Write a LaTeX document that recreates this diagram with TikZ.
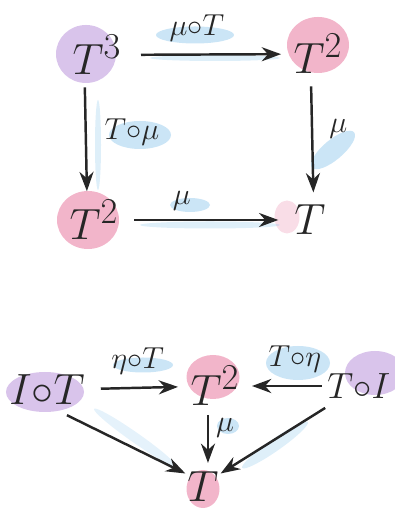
\documentclass[tikz,border=0pt]{standalone}
\usepackage{amsmath}
\usetikzlibrary{arrows.meta,positioning,backgrounds}
\definecolor{wcInk}{HTML}{262626}
\definecolor{wcPurple}{HTML}{B48AD8}
\definecolor{wcPink}{HTML}{E8789E}
\definecolor{wcBlue}{HTML}{7DBFE9}
\tikzset{
  % object of the category
  obj/.style={font=\fontsize{28}{32}\selectfont,text=wcInk,inner sep=3pt},
  % arrow label
  lbl/.style={font=\fontsize{16}{18}\selectfont,text=wcInk,inner sep=1pt},
  % arrows
  arr/.style={-{Stealth[length=11pt,width=8pt]},line width=1.4pt,color=wcInk},
  % watercolour washes
  purpblob/.style={fill=wcPurple,fill opacity=0.5,draw=none},
  pinkblob/.style={fill=wcPink,fill opacity=0.55,draw=none},
  bluewash/.style={fill=wcBlue,fill opacity=0.4,draw=none},
}
\begin{document}
\begin{tikzpicture}
  \useasboundingbox (0,0) rectangle (7.88,10.2);

  % washes
  \fill[purpblob] (1.72,9.12) ellipse (0.6 and 0.58);
  \fill[pinkblob] (6.36,9.3) ellipse (0.62 and 0.56);
  \fill[pinkblob] (1.76,5.8) ellipse (0.62 and 0.58);
  \fill[pinkblob,fill opacity=0.25] (5.74,5.86) ellipse (0.25 and 0.33);
  \fill[purpblob] (0.9,2.36) ellipse (0.78 and 0.4);
  \fill[pinkblob] (4.26,2.66) ellipse (0.53 and 0.44);
  \fill[purpblob] (7.5,2.74) ellipse (0.6 and 0.44);
  \fill[pinkblob] (4.06,0.42) ellipse (0.33 and 0.38);
  \fill[bluewash] (3.9,9.5) ellipse (0.78 and 0.17);
  \fill[bluewash,fill opacity=0.25] (4.3,9.04) ellipse (1.3 and 0.06);
  \fill[bluewash,fill opacity=0.25] (1.96,7.3) ellipse (0.06 and 0.9);
  \fill[bluewash] (2.8,7.5) ellipse (0.62 and 0.28);
  \fill[bluewash,rotate around={40:(6.66,7.2)}] (6.66,7.2) ellipse (0.55 and 0.2);
  \fill[bluewash] (3.8,6.1) ellipse (0.4 and 0.14);
  \fill[bluewash,fill opacity=0.25] (4.2,5.7) ellipse (1.4 and 0.07);
  \fill[bluewash] (2.86,2.9) ellipse (0.6 and 0.15);
  \fill[bluewash] (5.96,2.94) ellipse (0.64 and 0.34);
  \fill[bluewash] (4.56,1.68) ellipse (0.22 and 0.16);
  \fill[bluewash,fill opacity=0.2,rotate around={-35:(2.7,1.45)}] (2.7,1.45) ellipse (1.0 and 0.1);
  \fill[bluewash,fill opacity=0.25,rotate around={35:(5.5,1.3)}] (5.5,1.3) ellipse (0.8 and 0.12);

  % associativity square
  \node[obj] (t3) at (1.94,9.1) {$T^{3}$};
  \node[obj] (t2top) at (6.36,9.12) {$T^{2}$};
  \node[obj] (t2left) at (1.88,5.8) {$T^{2}$};
  \node[obj] (tright) at (6.2,5.8) {$T$};

  \draw[arr,shorten <=8pt,shorten >=4pt] (t3) -- (t2top)
    node[lbl,midway,above=6pt,xshift=-6pt] (mut) {$\mu{\circ}T$};
  \draw[arr,shorten <=4pt,shorten >=2pt] ([xshift=-7pt]t3.south) -- ([xshift=-4pt]t2left.north)
    node[lbl,midway,right=9pt,yshift=3pt] (tmu) {$T{\circ}\mu$};
  \draw[arr,shorten <=4pt,shorten >=4pt] ([xshift=-4pt]t2top.south) -- ([xshift=2pt]tright.north)
    node[lbl,midway,right=8pt,yshift=6pt] (mur) {$\mu$};
  \draw[arr,shorten <=6pt,shorten >=6pt] (t2left) -- (tright)
    node[lbl,midway,above=4pt,xshift=-14pt] (mub) {$\mu$};

  % unit triangle
  \node[obj] (iot) at (0.94,2.4) {$I{\circ}T$};
  \node[obj] (t2mid) at (4.3,2.48) {$T^{2}$};
  \node[obj,font=\fontsize{22}{26}\selectfont,anchor=east,inner sep=2pt] (toi) at (7.88,2.48) {$T{\circ}I$};
  \node[obj] (tbot) at (4.06,0.46) {$T$};

  \draw[arr,shorten <=6pt,shorten >=4pt] (iot) -- (t2mid)
    node[lbl,midway,above=6pt] (etat) {$\eta{\circ}T$};
  \draw[arr,shorten <=1pt,shorten >=4pt] (toi) -- (t2mid)
    node[lbl,midway,above=6pt,xshift=6pt] (teta) {$T{\circ}\eta$};
  \draw[arr,shorten <=2pt,shorten >=2pt] ([xshift=-4pt]t2mid.south) -- ([xshift=-4pt]t2mid.south |- tbot.north)
    node[lbl,pos=0.3,right=3pt] (mum) {$\mu$};
  \draw[arr,shorten <=6pt,shorten >=0pt] ([xshift=6pt]iot.south) -- ([xshift=2pt,yshift=-4pt]tbot.north west);
  \draw[arr,shorten <=6pt,shorten >=0pt] ([xshift=6pt]toi.south west) -- ([xshift=-2pt,yshift=-4pt]tbot.north east);
\end{tikzpicture}
\end{document}
